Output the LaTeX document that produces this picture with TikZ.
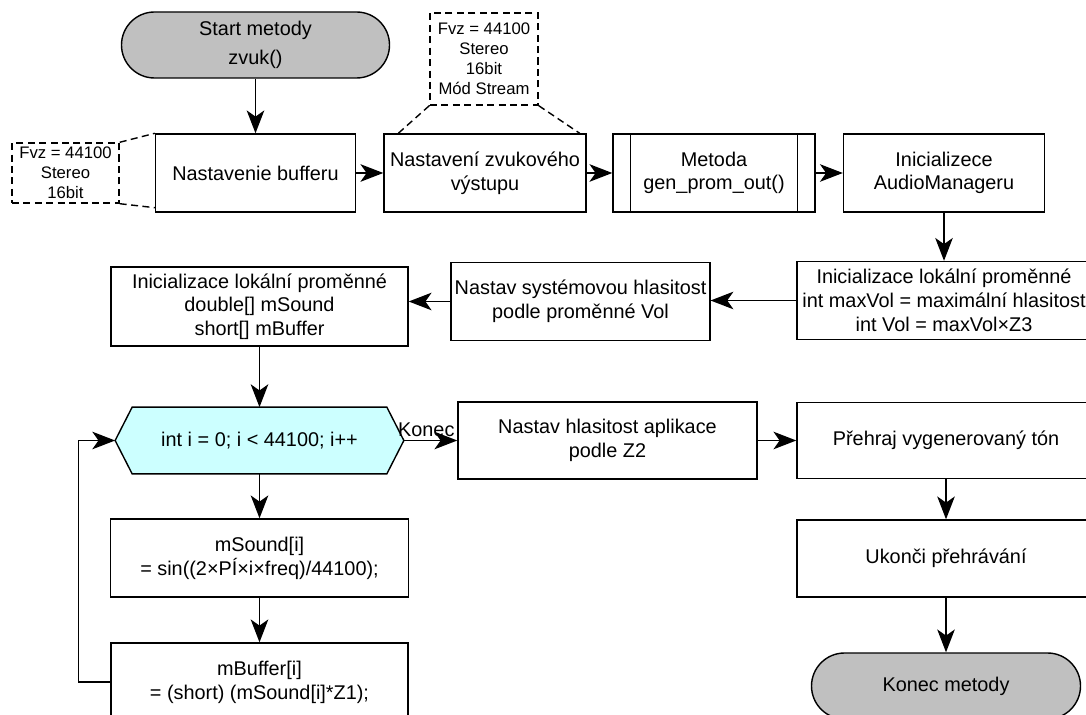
\documentclass[tikz,border=0pt]{standalone}
\usepackage{fontspec}
\setmainfont{Liberation Sans}
\usepackage{tikz}
\usetikzlibrary{arrows.meta}
\definecolor{termgray}{RGB}{192,192,192}
\definecolor{loopcyan}{RGB}{204,255,255}

\begin{document}
\begin{tikzpicture}[
  font=\fontsize{11.3}{13.5}\selectfont,
  box/.style={draw, line width=0.8pt, align=center, inner sep=2pt, minimum height=1.56cm},
  term/.style={box, fill=termgray, rounded corners=0.66cm, minimum height=1.32cm},
  note/.style={draw, line width=0.8pt, dash pattern=on 4pt off 2.5pt, align=center, inner sep=1pt, font=\fontsize{9.5}{11.4}\selectfont},
  flow/.style={line width=0.8pt, -{Stealth[length=13pt,width=10pt,inset=3.5pt]}},
  link/.style={line width=0.8pt, dash pattern=on 4pt off 2.5pt}
]
\useasboundingbox (0,0) rectangle (21.72,-14.3);

% top row
\node[term, minimum width=5.36cm] (start) at (5.11,-0.9) {Start metody\\[3pt]zvuk()};
\node[box, minimum width=4cm] (bufferu) at (5.11,-3.46) {Nastavenie bufferu};
\node[box, minimum width=4.04cm] (vystup) at (9.7,-3.46) {Nastavení zvukového\\výstupu};
\node[box, minimum width=4.04cm] (genprom) at (14.28,-3.46) {Metoda\\gen\_prom\_out()};
\draw[line width=0.8pt] ([xshift=0.36cm]genprom.north west) -- ([xshift=0.36cm]genprom.south west);
\draw[line width=0.8pt] ([xshift=-0.36cm]genprom.north east) -- ([xshift=-0.36cm]genprom.south east);
\node[box, minimum width=4.02cm] (audio) at (18.88,-3.46) {Inicializece\\AudioManageru};

% notes
\node[note, minimum width=2.14cm, minimum height=1.2cm] (ann1) at (1.31,-3.46) {Fvz = 44100\\Stereo\\16bit};
\node[note, minimum width=2.16cm, minimum height=1.84cm] (ann2) at (9.68,-1.18) {Fvz = 44100\\Stereo\\16bit\\Mód Stream};
\draw[link] (ann1.north east) -- (bufferu.north west);
\draw[link] (ann1.south east) -- ([yshift=0.1cm]bufferu.south west);
\draw[link] (ann2.south west) -- ([xshift=0.3cm]vystup.north west);
\draw[link] (ann2.south east) -- ([xshift=-0.14cm]vystup.north east);

% second row
\node[box, minimum width=5.88cm] (initvol) at (18.88,-6.01) {Inicializace lokální proměnné\\int maxVol = maximální hlasitost\\int Vol = maxVol×Z3};
\node[box, minimum width=5.06cm] (sysvol) at (11.61,-6.03) {Nastav systémovou hlasitost\\podle proměnné Vol};
\node[box, minimum width=5.94cm, minimum height=1.58cm] (initbuf) at (5.19,-6.13) {Inicializace lokální proměnné\\double[] mSound\\short[] mBuffer};

% loop
\node[minimum width=5.76cm, minimum height=1.32cm, inner sep=0pt] (loop) at (5.19,-8.81) {};
\filldraw[fill=loopcyan, line width=0.8pt] (loop.west) -- ([xshift=0.34cm]loop.north west) -- ([xshift=-0.34cm]loop.north east)
  -- (loop.east) -- ([xshift=-0.34cm]loop.south east) -- ([xshift=0.34cm]loop.south west) -- cycle;
\node at (loop) {int i = 0; i < 44100; i++};
\node[box, minimum width=5.96cm] (msound) at (5.19,-11.16) {mSound[i]\\= sin((2×PÍ×i×freq)/44100);};
\node[box, minimum width=5.94cm] (mbuffer) at (5.19,-13.64) {mBuffer[i]\\= (short) (mSound[i]*Z1);};

% right part
\node[box, minimum width=5.98cm, minimum height=1.54cm] (apl) at (12.15,-8.81) {Nastav hlasitost aplikace\\podle Z2};
\node[box, minimum width=5.96cm, minimum height=1.52cm] (play) at (18.92,-8.81) {Přehraj vygenerovaný tón};
\node[box, minimum width=5.96cm, minimum height=1.54cm] (stop) at (18.92,-11.17) {Ukonči přehrávání};
\node[term, minimum width=5.38cm] (end) at (18.92,-13.72) {Konec metody};

% connectors
\draw[flow] (start) -- (bufferu);
\draw[flow] (bufferu) -- (vystup);
\draw[flow] (vystup) -- (genprom);
\draw[flow] (genprom) -- (audio);
\draw[flow] (audio) -- (initvol);
\draw[flow] (initvol.west) -- (initvol.west -| sysvol.east);
\draw[flow] (sysvol.west) -- (sysvol.west -| initbuf.east);
\draw[flow] (initbuf) -- (loop);
\draw[flow] (loop) -- node[above, pos=0.42, inner sep=2pt] {Konec} (apl);
\draw[flow] (apl) -- (play);
\draw[flow] (play) -- (stop);
\draw[flow] (stop) -- (end);
\draw[flow] (loop) -- (msound);
\draw[flow] (msound) -- (mbuffer);
\draw[flow] (mbuffer.west) -- ++(-0.64,0) |- (loop.west);
\end{tikzpicture}
\end{document}
